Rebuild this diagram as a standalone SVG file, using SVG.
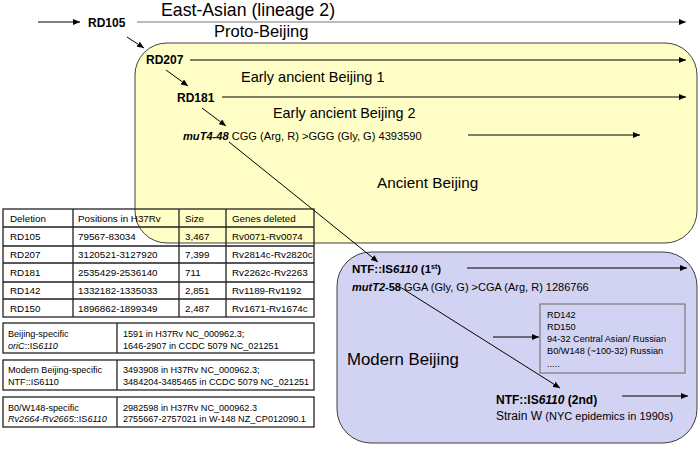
<svg xmlns="http://www.w3.org/2000/svg" width="700" height="452" viewBox="0 0 700 452">
<defs>
<marker id="ah" markerWidth="7" markerHeight="6" refX="7" refY="3" orient="auto" markerUnits="userSpaceOnUse">
<path d="M0,0 L7,3 L0,6 z" fill="#000"/>
</marker>
<style>
text{font-family:"Liberation Sans",Arial,sans-serif;fill:#000}
.b{font-weight:bold}
.t{font-size:9.8px}
.s{font-size:9.1px}
.c{stroke:#000;stroke-width:1;fill:none;marker-end:url(#ah)}
.tb{stroke:#222;stroke-width:1.3;fill:none}
</style>
</defs>
<rect width="700" height="452" fill="#fff"/>
<g id="ancient">
<rect x="135" y="43" width="562" height="200" rx="32" ry="32" fill="#fefec6" stroke="#404040" stroke-width="1"/>
<text x="377" y="188" font-size="15.3">Ancient Beijing</text>
</g>
<g id="modern">
<rect x="337" y="252" width="360" height="191" rx="34" ry="34" fill="#d2d2f2" stroke="#404040" stroke-width="1"/>
<text x="347" y="365" font-size="16.8">Modern Beijing</text>
</g>
<g id="sublineages">
<rect x="540" y="304" width="145" height="69" fill="#d2d2f2" stroke="#666" stroke-width="1"/>
<text font-size="9.2" x="547" y="318">RD142</text>
<text font-size="9.2" x="547" y="330">RD150</text>
<text font-size="9.2" x="547" y="342">94-32 Central Asian/ Russian</text>
<text font-size="9.2" x="547" y="354">B0/W148 (~100-32) Russian</text>
<text font-size="9.2" x="547" y="367">.....</text>
</g>
<g id="rd105"><text x="88" y="27" class="b" font-size="12">RD105</text></g>
<g id="eastasian"><text x="161" y="16" font-size="17.7">East-Asian (lineage 2)</text></g>
<g id="proto"><text x="214" y="37" font-size="16.5">Proto-Beijing</text></g>
<g id="rd207"><text x="146" y="64" class="b" font-size="12">RD207</text></g>
<g id="early1"><text x="241" y="82" font-size="14.5">Early ancient Beijing 1</text></g>
<g id="rd181"><text x="177" y="102" class="b" font-size="12">RD181</text></g>
<g id="early2"><text x="273" y="118" font-size="14.4">Early ancient Beijing 2</text></g>
<g id="mut4"><text x="183" y="140" font-size="11.1"><tspan class="b" font-style="italic">muT4-48</tspan> CGG (Arg, R) &gt;GGG (Gly, G) 4393590</text></g>
<g id="ntf1"><text x="352" y="273" class="b" font-size="11.5">NTF::IS<tspan font-style="italic">6110</tspan> (1<tspan font-size="7" dy="-4">st</tspan><tspan dy="4">)</tspan></text></g>
<g id="mut2"><text x="352" y="291" font-size="11"><tspan class="b" font-style="italic">mutT2</tspan><tspan class="b">-58</tspan> GGA (Gly, G) &gt;CGA (Arg, R) 1286766</text></g>
<g id="ntf2"><text x="496" y="404" class="b" font-size="12">NTF::IS<tspan font-style="italic">6110</tspan> (2nd)</text></g>
<g id="strainw"><text x="496" y="420" font-size="12">Strain W <tspan font-size="11">(NYC epidemics in 1990s)</tspan></text></g>
<g id="connectors">
<line class="c" x1="38" y1="22" x2="80" y2="22"/>
<line class="c" x1="137" y1="22" x2="686" y2="22" style="stroke:#777"/>
<line class="c" x1="127" y1="37" x2="144" y2="48"/>
<line class="c" x1="190" y1="60" x2="686" y2="60"/>
<line class="c" x1="166" y1="70" x2="188" y2="86"/>
<line class="c" x1="222" y1="97" x2="686" y2="97"/>
<line class="c" x1="202" y1="108" x2="226" y2="126"/>
<line class="c" x1="468" y1="135" x2="640" y2="135"/>
<line class="c" x1="229" y1="142" x2="378" y2="262"/>
<line class="c" x1="467" y1="268" x2="687" y2="268"/>
<line class="c" x1="400" y1="287" x2="560" y2="388"/>
<line class="c" x1="493" y1="337" x2="539" y2="337"/>
<line class="c" x1="622" y1="396" x2="688" y2="396"/>
</g>
<g id="deletions">
<rect class="tb" x="3" y="209" width="311" height="108"/>
<path class="tb" d="M3,227H314M3,246H314M3,263H314M3,282H314M3,299H314M73,209V317M179,209V317M226,209V317"/>
<text class="t" x="10" y="222">Deletion</text><text class="t" x="78" y="222">Positions in H37Rv</text><text class="t" x="185" y="222">Size</text><text class="t" x="232" y="222">Genes deleted</text>
<text class="t" x="10" y="240">RD105</text><text class="t" x="78" y="240">79567-83034</text><text class="t" x="185" y="240">3,467</text><text class="t" x="232" y="240">Rv0071-Rv0074</text>
<text class="t" x="10" y="258">RD207</text><text class="t" x="78" y="258">3120521-3127920</text><text class="t" x="185" y="258">7,399</text><text class="t" x="232" y="258">Rv2814c-Rv2820c</text>
<text class="t" x="10" y="276">RD181</text><text class="t" x="78" y="276">2535429-2536140</text><text class="t" x="185" y="276">711</text><text class="t" x="232" y="276">Rv2262c-Rv2263</text>
<text class="t" x="10" y="294">RD142</text><text class="t" x="78" y="294">1332182-1335033</text><text class="t" x="185" y="294">2,851</text><text class="t" x="232" y="294">Rv1189-Rv1192</text>
<text class="t" x="10" y="312">RD150</text><text class="t" x="78" y="312">1896862-1899349</text><text class="t" x="185" y="312">2,487</text><text class="t" x="232" y="312">Rv1671-Rv1674c</text>
</g>
<g id="beijing-specific">
<rect class="tb" x="3" y="323" width="311" height="30" stroke-width="1.6"/>
<path class="tb" d="M117,323V353"/>
<text class="s" x="8" y="337">Beijing-specific</text>
<text class="s" x="8" y="349"><tspan font-style="italic">oriC</tspan>::IS<tspan font-style="italic">6110</tspan></text>
<text class="s" x="123" y="337">1591 in H37Rv NC_000962.3;</text>
<text class="s" x="123" y="349">1646-2907 in CCDC 5079 NC_021251</text>
</g>
<g id="modern-specific">
<rect class="tb" x="3" y="360" width="311" height="30" stroke-width="1.6"/>
<path class="tb" d="M117,360V390"/>
<text class="s" x="8" y="373">Modern Beijing-specific</text>
<text class="s" x="8" y="385">NTF::IS6110</text>
<text class="s" x="123" y="373">3493908 in H37Rv NC_000962.3;</text>
<text class="s" x="123" y="385">3484204-3485465 in CCDC 5079 NC_021251</text>
</g>
<g id="b0-specific">
<rect class="tb" x="3" y="397" width="311" height="30" stroke-width="1.6"/>
<path class="tb" d="M117,397V427"/>
<text class="s" x="8" y="411">B0/W148-specific</text>
<text class="s" x="8" y="422"><tspan font-style="italic">Rv2664-Rv2665</tspan>::IS<tspan font-style="italic">6110</tspan></text>
<text class="s" x="123" y="411">2982598 in H37Rv NC_000962.3</text>
<text class="s" x="123" y="422">2755667-2757021 in W-148 NZ_CP012090.1</text>
</g>
</svg>
